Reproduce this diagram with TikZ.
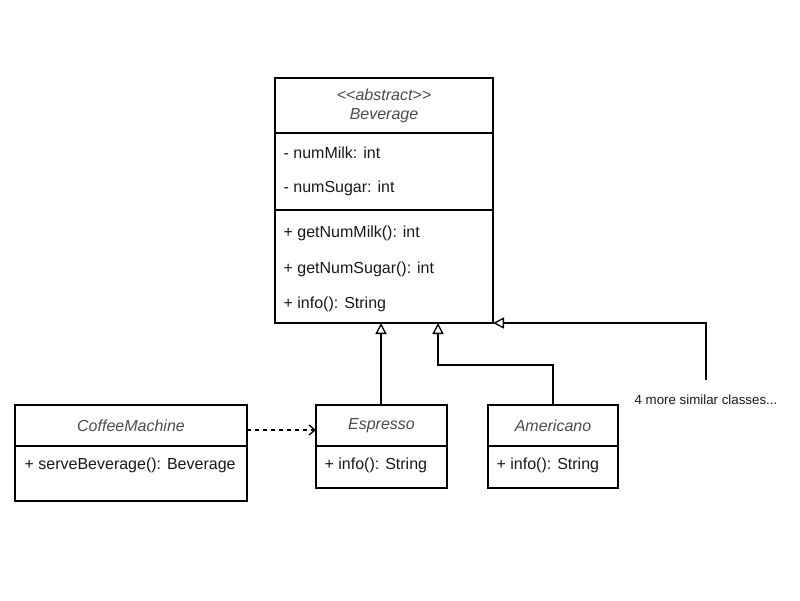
\documentclass[tikz,border=0pt]{standalone}
\usepackage{fontspec}
\setmainfont{Liberation Sans}
\usetikzlibrary{arrows.meta}
\newcommand\umlfont{\fontsize{16}{19}\selectfont}
\newcommand\notefont{\fontsize{13.3}{16}\selectfont}

\begin{document}
\begin{tikzpicture}[x=1pt,y=-1pt,line width=1.3pt,
    title/.style={draw,anchor=north west,inner sep=0pt,outer sep=0pt,align=center,
      font=\umlfont\itshape,text=black!70},
    part/.style={draw,anchor=north west,inner sep=0pt,outer sep=0pt},
    member/.style={anchor=west,inner sep=0pt,font=\umlfont,text=black!90},
    extends/.style={-{Triangle[open,length=11pt,width=11pt]}},
    uses/.style={dash pattern=on 4pt off 4pt,
      -{Straight Barb[length=6pt,width=10pt]}}]
\useasboundingbox[fill=white] (0,0) rectangle (800,600);

\node[title,minimum width=218,minimum height=55] (beverage) at (275,78)
    {{<}{<}abstract{>}{>}\\Beverage};
\node[part,minimum width=218,minimum height=77]  (fields)  at (beverage.south west) {};
\node[part,minimum width=218,minimum height=113] (methods) at (fields.south west)   {};
\path
      (fields.north west)
    ++(8,20) node[member] (milk)   {- numMilk: int}
    ++(0,35) node[member] (sugar)  {- numSugar: int}
      (methods.north west)
    ++(8,23) node[member] (getmilk)  {+ getNumMilk(): int}
    ++(0,36) node[member] (getsugar) {+ getNumSugar(): int}
    ++(0,35) node[member] (info)     {+ info(): String};

\node[title,minimum width=232,minimum height=41] (machine) at (15,405) {CoffeeMachine};
\node[part,minimum width=232,minimum height=55] (machinebody) at (machine.south west) {};
\path (machinebody.north west) ++(9,19) node[member] (serve) {+ serveBeverage(): Beverage};

\node[title,minimum width=131,minimum height=41] (espresso) at (316,405) {Espresso};
\node[part,minimum width=131,minimum height=42] (espressobody) at (espresso.south west) {};
\path (espressobody.west) ++(8,-2) node[member] (espressoinfo) {+ info(): String};

\node[title,minimum width=130,minimum height=41] (americano) at (488,405) {Americano};
\node[part,minimum width=130,minimum height=42] (americanobody) at (americano.south west) {};
\path (americanobody.west) ++(8,-2) node[member] (americanoinfo) {+ info(): String};

\node[anchor=west,inner sep=0pt,font=\notefont,text=black!90] (others) at (634,400)
    {4 more similar classes...};
\coordinate (bend) at (438,365);

\draw[extends] ([xshift=-.5pt]espresso.north) -- ([xshift=-.5pt]espresso.north |- methods.south);
\draw[extends] (americano.north) |- (bend) -- (bend |- methods.south);
\draw[extends] ([yshift=14pt]others.north) |- (methods.south east);
\draw[uses] ([yshift=-4.5pt]machine.east) -- ([yshift=-4.5pt]espresso.west);
\end{tikzpicture}
\end{document}
